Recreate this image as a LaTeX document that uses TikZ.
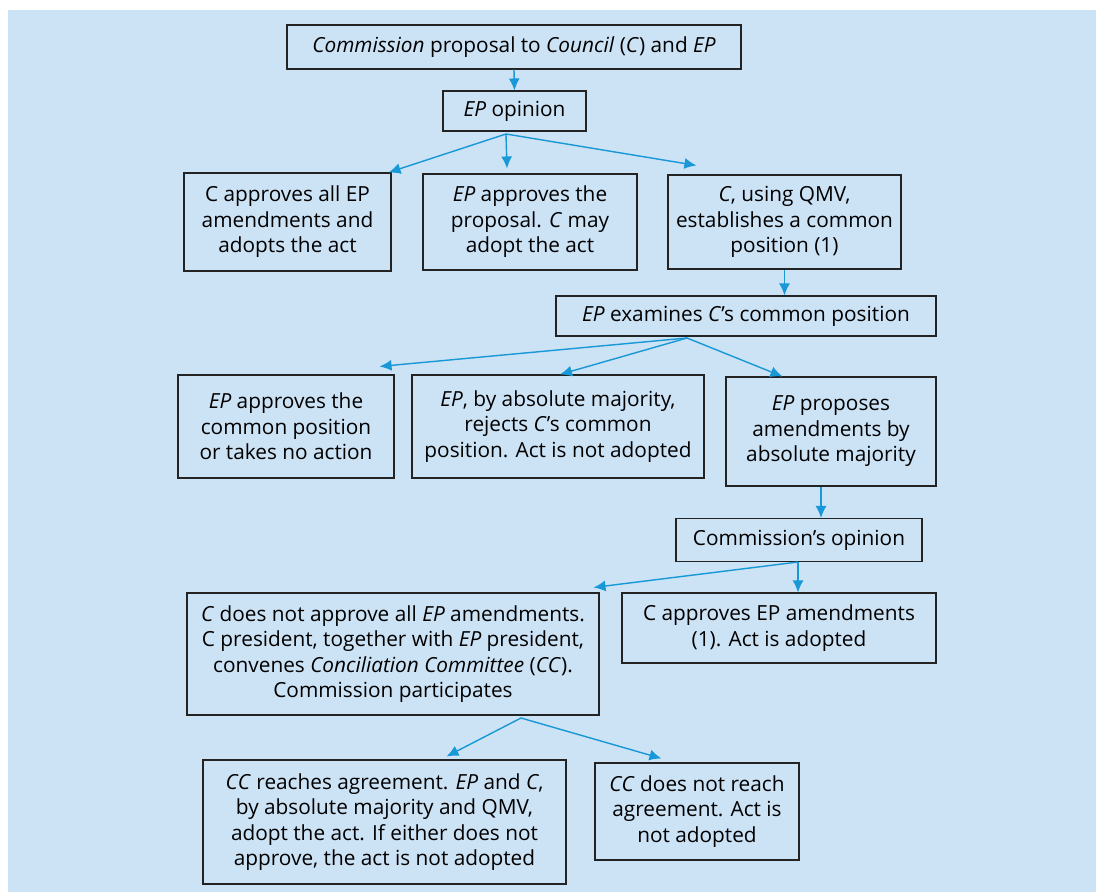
\documentclass[tikz,border=0pt]{standalone}
\usepackage{fontspec}
\setmainfont{Open Sans}
\usetikzlibrary{arrows.meta,positioning}
\definecolor{panel}{RGB}{204,226,245}
\definecolor{flow}{RGB}{24,152,214}
\definecolor{edge}{RGB}{35,35,35}
\newcommand\ep{\textit{EP}}
\newcommand\cc{\textit{C}}
\begin{document}
\begin{tikzpicture}[x=1pt,y=-1pt,
        flowarrow/.style={draw=flow,line width=1.4pt,-{Latex[length=12pt,width=11pt]}}]%
        \useasboundingbox (0,0) rectangle (1096,892);%
        \fill[white] (0,0) rectangle (1096,892);%
        \fill[panel] (8,10) rectangle (1096,892);%
        \begin{scope}[shape=rectangle,inner sep=0pt]
        \tikzstyle{every node}=[draw=edge,line width=1.1pt,align=center,font=\fontsize{20.8}{25.5}\selectfont] %%
        \node[minimum width=454,minimum height=44] (top) at (514,47) {\textit{Commission} proposal to \textit{Council} (\cc) and \ep}; %%
        \node[minimum width=143,minimum height=40] (epop) at (514.5,111) {\ep{} opinion}; %%
        \node[minimum width=207,minimum height=98] (ca) at (287.5,222) {C approves all EP\\amendments and\\adopts the act}; %%
        \node[minimum width=214,minimum height=96] (epa) at (530,222) {\ep{} approves the\\proposal. \cc{} may\\adopt the act}; %%
        \node[minimum width=233,minimum height=94] (cqmv) at (784.5,222) {\cc, using QMV,\\establishes a common\\position (1)}; %%
        \node[minimum width=380,minimum height=40] (exam) at (746,316) {\ep{} examines \cc’s common position}; %%
        \node[minimum width=216,minimum height=103] (epcp) at (286,426.5) {\ep{} approves the\\common position\\or takes no action}; %%
        \node[minimum width=292,minimum height=103] (rej) at (558,426.5) {\ep, by absolute majority,\\rejects \cc’s common\\position. Act is not adopted}; %%
        \node[minimum width=210,minimum height=109] (prop) at (831,431.5) {\ep{} proposes\\amendments by\\absolute majority}; %%
        \node[minimum width=246,minimum height=43] (copin) at (799,540) {Commission’s opinion}; %%
        \node[minimum width=412,minimum height=122] (notall) at (393,654) {\cc{} does not approve all \ep{} amendments.\\C president, together with \ep{} president,\\convenes \textit{Conciliation Committee} (\textit{CC}).\\Commission participates}; %%
        \node[minimum width=314,minimum height=70] (capp) at (779,628) {C approves EP amendments\\(1). Act is adopted}; %%
        \node[minimum width=363,minimum height=124] (ccag) at (384.5,822) {\textit{CC} reaches agreement. \ep{} and \cc,\\by absolute majority and QMV,\\adopt the act. If either does not\\approve, the act is not adopted}; %%
        \node[minimum width=204,minimum height=97] (ccno) at (697,811.5) {\textit{CC} does not reach\\agreement. Act is\\not adopted}; %%
        \end{scope}
        \coordinate (f0) at (506,134); %%
        \coordinate (f1) at (687,338); %%
        \coordinate (f2) at (798,562); %%
        \coordinate (f3) at (521,718); %%
        \draw[flowarrow] (top.south)--(epop.north); %%
        \draw[flowarrow] (f0)--([xshift=-3pt]ca.north east); %%
        \draw[flowarrow] (f0)--([xshift=-23pt,yshift=5pt]epa.north); %%
        \draw[flowarrow] (f0)--([xshift=29pt,yshift=9pt]cqmv.north west); %%
        \draw[flowarrow] (cqmv.south)--(cqmv.south |- exam.north); %%
        \draw[flowarrow] (f1)--([xshift=-15pt,yshift=8pt]epcp.north east); %%
        \draw[flowarrow] (f1)--([xshift=2pt]rej.north); %%
        \draw[flowarrow] (f1)--([xshift=57pt]prop.north west); %%
        \draw[flowarrow] ([xshift=-10pt]prop.south)--([xshift=-10pt]prop.south |- copin.north); %%
        \draw[flowarrow] (f2)--([xshift=-6pt,yshift=5pt]notall.north east); %%
        \draw[flowarrow] (f2)--(f2 |- capp.north); %%
        \draw[flowarrow] (f3)--([xshift=62pt,yshift=3pt]ccag.north); %%
        \draw[flowarrow] (f3)--([xshift=67pt,yshift=4pt]ccno.north west); %%
\end{tikzpicture}
\end{document}
